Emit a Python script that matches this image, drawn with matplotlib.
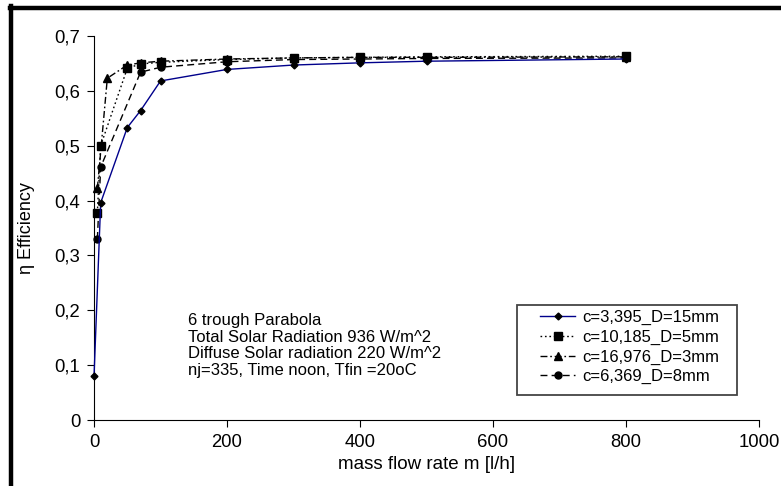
import matplotlib
matplotlib.use("Agg")
import matplotlib.pyplot as plt
from matplotlib.lines import Line2D
from matplotlib.patches import Rectangle

plt.rcParams['font.family'] = ['Liberation Sans', 'DejaVu Sans']

# measured series (mass flow rate l/h -> efficiency)
x_d15 = [0, 10, 50, 70, 100, 200, 300, 400, 500, 800]
y_d15 = [0.08, 0.396, 0.533, 0.564, 0.618, 0.639, 0.647, 0.651, 0.654, 0.658]

x_d5 = [5, 10, 50, 70, 100, 200, 300, 400, 500, 800]
y_d5 = [0.378, 0.50, 0.641, 0.649, 0.652, 0.657, 0.660, 0.661, 0.662, 0.663]

x_d3 = [5, 20, 50, 70, 100, 200, 300, 400, 500, 800]
y_d3 = [0.422, 0.623, 0.647, 0.651, 0.654, 0.658, 0.660, 0.661, 0.661, 0.662]

x_d8 = [5, 10, 70, 100, 200, 300, 400, 500, 800]
y_d8 = [0.33, 0.461, 0.634, 0.643, 0.653, 0.657, 0.658, 0.659, 0.660]

labels = ["c=3,395_D=15mm", "c=10,185_D=5mm", "c=16,976_D=3mm", "c=6,369_D=8mm"]
yticks = [0, 0.1, 0.2, 0.3, 0.4, 0.5, 0.6, 0.7]
ytick_labels = ["0", "0,1", "0,2", "0,3", "0,4", "0,5", "0,6", "0,7"]
xticks = [0, 200, 400, 600, 800, 1000]

fig = plt.figure(figsize=(7.81, 4.86), dpi=100)
ax = fig.add_axes([0.1204, 0.1358, 0.8514, 0.7902])

ax.plot(x_d15, y_d15, color='#00008b', lw=1.0, marker='D', ms=3.5,
        mfc='black', mec='black', label=labels[0], clip_on=False, zorder=3)
ax.plot(x_d5, y_d5, color='black', lw=1.0, ls=(0, (1.2, 2)), marker='s', ms=5.5,
        label=labels[1], clip_on=False)
ax.plot(x_d3, y_d3, color='black', lw=1.0, ls=(0, (5, 2, 1.2, 2)), marker='^', ms=5.5,
        label=labels[2], clip_on=False)
ax.plot(x_d8, y_d8, color='black', lw=1.0, ls=(0, (5, 3)), marker='o', ms=5,
        label=labels[3], clip_on=False)

ax.set_xlim(0, 1000)
ax.set_ylim(0, 0.7)
ax.set_xticks(xticks)
ax.set_yticks(yticks)
ax.set_yticklabels(ytick_labels)
ax.tick_params(labelsize=13.3, direction='out', length=5, width=0.8, pad=5)
ax.spines['top'].set_visible(False)
ax.spines['right'].set_visible(False)

ax.set_xlabel("mass flow rate m [l/h]", fontsize=13.5)
ax.xaxis.set_label_coords(0.5, -0.095)
ax.set_ylabel("η Efficiency", fontsize=13)
ax.yaxis.set_label_coords(-0.089, 0.5)

ax.text(0.141, 0.279,
        "6 trough Parabola\nTotal Solar Radiation 936 W/m^2\n"
        "Diffuse Solar radiation 220 W/m^2\nnj=335, Time noon, Tfin =20oC",
        transform=ax.transAxes, fontsize=12, va='top', ha='left', linespacing=1.15)

# legend box drawn separately, legend entries without frame
ax.add_patch(Rectangle((0.636, 0.065), 0.331, 0.2345, transform=ax.transAxes,
                       fill=True, facecolor='white', edgecolor='#444444', lw=1.3,
                       zorder=4))
leg = ax.legend(loc='upper left', bbox_to_anchor=(0.671, 0.287), fontsize=12,
                frameon=False, borderpad=0, labelspacing=0.28, handlelength=2.1,
                handletextpad=0.45, borderaxespad=0)
leg.set_zorder(5)

# heavy frame on the top and left edge
fig.add_artist(Line2D([0.0128, 1.0], [1 - 8 / 486, 1 - 8 / 486], color='black', lw=3.2,
                      transform=fig.transFigure))
fig.add_artist(Line2D([11 / 781, 11 / 781], [0, 1 - 6 / 486], color='black', lw=3.2,
                      transform=fig.transFigure))

fig.savefig("out.png", dpi=100)
